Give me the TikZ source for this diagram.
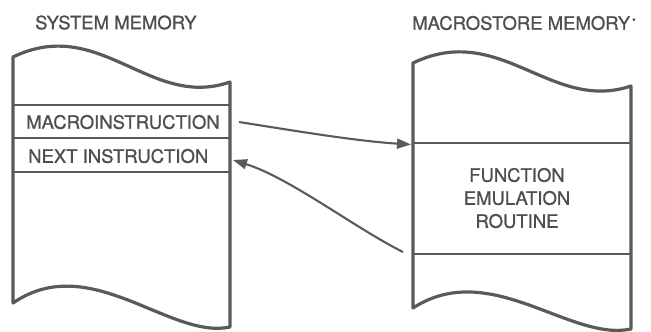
\documentclass[tikz,border=0pt]{standalone}
\usepackage{fontspec}
\setmainfont[FakeBold=0.9]{TeX Gyre Heros}
\usetikzlibrary{arrows.meta}
\definecolor{ink}{HTML}{5A5A5A}
\definecolor{txt}{HTML}{4E4E4E}
\tikzset{
  outline/.style={draw=ink, line width=3.2bp, line join=round},
  divider/.style={draw=ink, line width=2.1bp},
  label/.style={text=txt, inner sep=0pt, font=\fontsize{18.5bp}{23bp}\selectfont},
  arr/.style={draw=ink, line width=2.1bp, -{Triangle[length=14bp,width=10bp]}},
}
\begin{document}
\begin{tikzpicture}[x=1bp,y=-1bp]
\useasboundingbox (0,0) rectangle (651,331);
% left memory
\draw[outline] (13,57) .. controls (100,15) and (150,110) .. (230,82)
  -- (230,327) .. controls (170,340) and (90,250) .. (13,303) -- cycle;
\draw[divider] (13,105) -- (230,105);
\draw[divider] (13,138) -- (230,138);
\draw[divider] (13,172) -- (230,172);
% right memory
\draw[outline] (413,63) .. controls (500,21) and (551,113) .. (631,86)
  -- (631,329) .. controls (570,342) and (490,258) .. (413,308) -- cycle;
\draw[divider] (413,143) -- (631,143);
\draw[divider] (413,254) -- (631,254);
% texts
\node[label, anchor=west] (systitle) at (35,22.5) {SYSTEM MEMORY};
\node[label, anchor=west] (mactitle) at (412,23) {MACROSTORE MEMORY\kern2bp\raisebox{5bp}{\fontsize{9bp}{9bp}\selectfont *}};
\node[label, anchor=west] (macro) at (26,122) {MACROINSTRUCTION};
\node[label, anchor=west] (next) at (28,156) {NEXT INSTRUCTION};
\node[label, align=center] (func) at (517,198) {FUNCTION\\EMULATION\\ROUTINE};
% connector end points
\coordinate (a1s) at (239,122);
\coordinate (a1e) at (411,144.5);
\coordinate (a2s) at (403,252);
\coordinate (a2e) at (233,160);
\draw[arr] (a1s) .. controls (290,130) and (355,141) .. (a1e);
\draw[arr] (a2s) .. controls (355,228) and (290,178) .. (a2e);
\end{tikzpicture}
\end{document}
